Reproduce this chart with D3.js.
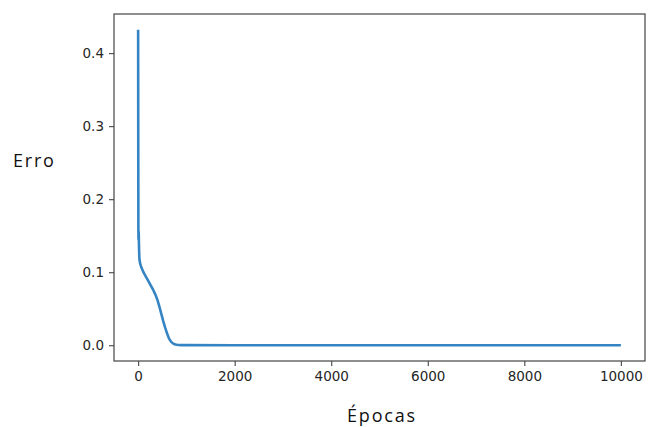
<!DOCTYPE html>
<html>
<head>
<meta charset="utf-8">
<script src="https://cdn.jsdelivr.net/npm/d3@7"></script>
<style>
  body { margin: 0; background: #fff; }
  .tick text { font-family: "DejaVu Sans", sans-serif; font-size: 13.5px; fill: #262626; }
  .lbl { font-family: "Open Sans", sans-serif; font-size: 18px; fill: #111; letter-spacing: 1.8px; }
</style>
</head>
<body>
<svg width="648" height="427"></svg>
<script>
// training error per epoch
var epocas = [0, 2, 5, 8, 12, 16, 20, 25, 30, 45, 70, 110, 160, 210, 260, 310, 360, 400, 440, 480, 520, 560, 600, 640, 680, 720, 770, 830, 900, 1000, 2000, 4000, 6000, 8000, 10000];
var erro   = [0.432, 0.30, 0.16, 0.145, 0.155, 0.14, 0.13, 0.12, 0.116, 0.111, 0.106, 0.100, 0.094, 0.088, 0.082, 0.076, 0.069, 0.062, 0.053, 0.043, 0.033, 0.024, 0.016, 0.009, 0.005, 0.0025, 0.001, 0.0004, 0.0002, 0.0001, 0.00005, 0.00003, 0.00002, 0.00002, 0.00001];
var xTicks = [0, 2000, 4000, 6000, 8000, 10000];
var yTicks = [0.0, 0.1, 0.2, 0.3, 0.4];

var pLeft = 114, pRight = 645, pTop = 14, pBottom = 361;

var svg = d3.select('svg');

// matplotlib style 5% margins
var x = d3.scaleLinear().domain([-500, 10500]).range([pLeft, pRight]);
var y = d3.scaleLinear().domain([-0.0216, 0.4536]).range([pBottom, pTop]);

var line = d3.line()
    .x(function(d, i) { return x(epocas[i]); })
    .y(function(d) { return y(d); });

svg.append('path')
    .datum(erro)
    .attr('d', line)
    .attr('fill', 'none')
    .attr('stroke', '#3584c3')
    .attr('stroke-width', 2.6)
    .attr('stroke-linejoin', 'round');

var xAxis = d3.axisBottom(x).tickValues(xTicks).tickFormat(d3.format('d')).tickSize(5).tickPadding(5);
var yAxis = d3.axisLeft(y).tickValues(yTicks).tickFormat(d3.format('.1f')).tickSize(5).tickPadding(5);

var gx = svg.append('g').attr('transform', 'translate(0,' + pBottom + ')').call(xAxis);
var gy = svg.append('g').attr('transform', 'translate(' + pLeft + ',0)').call(yAxis);
[gx, gy].forEach(function(g) {
  g.select('.domain').remove();
  g.selectAll('.tick line').attr('stroke', '#444').attr('stroke-width', 1.1);
});

// frame
svg.append('rect')
    .attr('x', pLeft).attr('y', pTop)
    .attr('width', pRight - pLeft).attr('height', pBottom - pTop)
    .attr('fill', 'none')
    .attr('stroke', '#444')
    .attr('stroke-width', 1.2);

svg.append('text').attr('class', 'lbl')
    .attr('x', 13).attr('y', 167)
    .text('Erro');

svg.append('text').attr('class', 'lbl')
    .attr('x', 382).attr('y', 422)
    .attr('text-anchor', 'middle')
    .text('Épocas');
</script>
</body>
</html>
